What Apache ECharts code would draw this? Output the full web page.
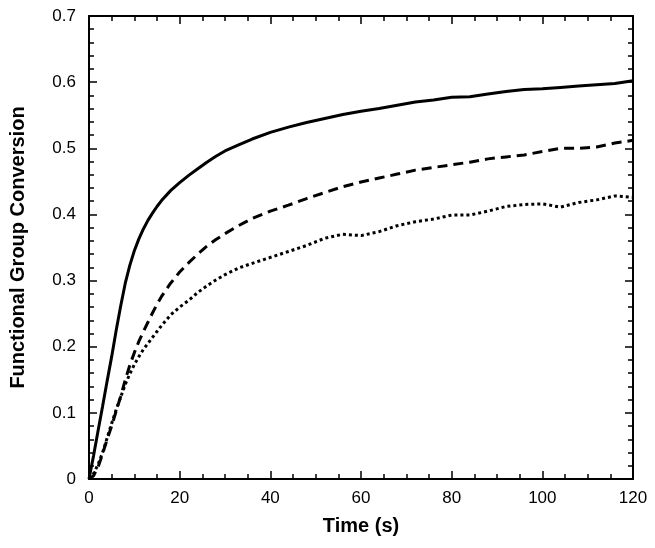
<!DOCTYPE html>
<html>
<head>
<meta charset="utf-8">
<script src="https://cdn.jsdelivr.net/npm/echarts@6/dist/echarts.min.js"></script>
<style>html,body{margin:0;padding:0;background:#fff;}#c{width:655px;height:548px;}</style>
</head>
<body>
<div id="c"></div>
<script>
const time = [0,1,2,3,4,5,6,7,8,9,10,11,12,13,14,15,16,18,20,22,24,26,28,30,33,36,40,44,48,52,56,60,64,68,72,76,80,84,88,92,96,100,104,108,112,116,120];
const solid = [0,0.035,0.073,0.11,0.148,0.185,0.225,0.262,0.296,0.323,0.345,0.363,0.378,0.391,0.402,0.412,0.421,0.436,0.448,0.459,0.469,0.479,0.488,0.496,0.505,0.514,0.524,0.532,0.539,0.545,0.551,0.556,0.560,0.565,0.570,0.573,0.577,0.578,0.582,0.586,0.589,0.590,0.592,0.594,0.596,0.598,0.602];
const dashed = [0,0.005,0.018,0.038,0.06,0.08,0.103,0.125,0.150,0.172,0.191,0.208,0.223,0.237,0.251,0.264,0.276,0.296,0.313,0.327,0.340,0.352,0.362,0.371,0.383,0.394,0.405,0.414,0.424,0.433,0.442,0.449,0.455,0.461,0.467,0.471,0.475,0.479,0.484,0.487,0.490,0.495,0.500,0.500,0.502,0.508,0.512];
const dotted = [0,0.008,0.022,0.04,0.062,0.084,0.105,0.124,0.143,0.159,0.173,0.185,0.196,0.205,0.214,0.223,0.232,0.248,0.260,0.270,0.282,0.292,0.301,0.309,0.319,0.326,0.335,0.344,0.353,0.364,0.370,0.368,0.374,0.383,0.389,0.393,0.399,0.399,0.405,0.412,0.415,0.416,0.411,0.418,0.422,0.428,0.426];
const xTitle = 'Time (s)';
const yTitle = 'Functional Group Conversion';

const pair = arr => time.map((t, i) => [t, arr[i]]);
const font = 'Liberation Sans, Arial, Helvetica, sans-serif';
const lineStyle = {color: '#000', width: 2};
const tickStyle = {color: '#000', width: 1.5};

function xa(pos, labels) {
  return {
    type: 'value', position: pos, min: 0, max: 120, interval: 20,
    axisLine: {show: true, onZero: false, lineStyle: lineStyle},
    axisTick: {show: true, inside: true, length: 8, lineStyle: tickStyle},
    minorTick: {show: true, splitNumber: 4, length: 5, lineStyle: tickStyle},
    splitLine: {show: false},
    axisLabel: {show: labels, color: '#000', fontSize: 17, fontFamily: font, margin: 11},
    name: labels ? xTitle : '', nameLocation: 'middle', nameGap: 37,
    nameTextStyle: {color: '#000', fontSize: 20, fontWeight: 'bold', fontFamily: font}
  };
}
function ya(pos, labels) {
  return {
    type: 'value', position: pos, min: 0, max: 0.7, interval: 0.1,
    axisLine: {show: true, onZero: false, lineStyle: lineStyle},
    axisTick: {show: true, inside: true, length: 8, lineStyle: tickStyle},
    minorTick: {show: true, splitNumber: 5, length: 5, lineStyle: tickStyle},
    splitLine: {show: false},
    axisLabel: {show: labels, color: '#000', fontSize: 17, fontFamily: font, margin: 13,
      formatter: v => String(Math.round(v * 10) / 10)},
    name: labels ? yTitle : '', nameLocation: 'middle', nameGap: 61, nameRotate: 90,
    nameTextStyle: {color: '#000', fontSize: 20, fontWeight: 'bold', fontFamily: font}
  };
}

const chart = echarts.init(document.getElementById('c'), null, {renderer: 'canvas'});
chart.setOption({
  animation: false,
  backgroundColor: '#fff',
  grid: {left: 89, right: 22, top: 16, bottom: 69, containLabel: false},
  xAxis: [xa('bottom', true), xa('top', false)],
  yAxis: [ya('left', true), ya('right', false)],
  series: [
    {type: 'line', data: pair(solid), showSymbol: false, lineStyle: {color: '#000', width: 3}},
    {type: 'line', data: pair(dashed), showSymbol: false, lineStyle: {color: '#000', width: 3, type: [10, 6]}},
    {type: 'line', data: pair(dotted), showSymbol: false, lineStyle: {color: '#000', width: 3, type: [3, 3]}}
  ]
});
</script>
</body>
</html>
